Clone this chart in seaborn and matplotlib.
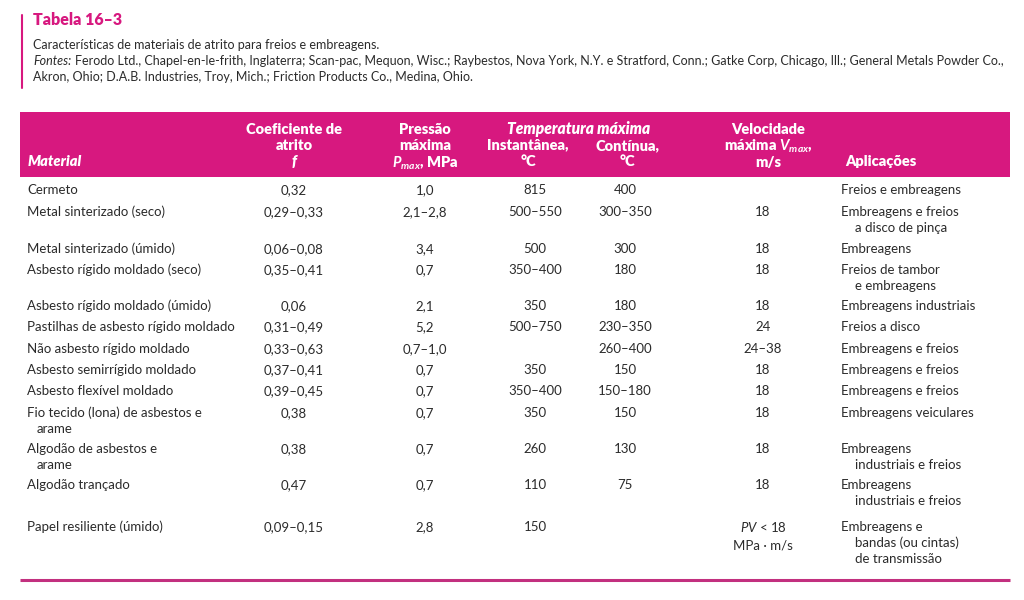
import matplotlib.pyplot as plt
import seaborn as sns
import pandas as pd

# table content
materials = ["Cermeto", "Metal sinterizado (seco)", "Metal sinterizado (úmido)",
             "Asbesto rígido moldado (seco)", "Asbesto rígido moldado (úmido)",
             "Pastilhas de asbesto rígido moldado", "Não asbesto rígido moldado",
             "Asbesto semirrígido moldado", "Asbesto flexível moldado",
             "Fio tecido (lona) de asbestos e\narame", "Algodão de asbestos e\narame",
             "Algodão trançado", "Papel resiliente (úmido)"]
coef = ["0,32", "0,29–0,33", "0,06–0,08", "0,35–0,41", "0,06", "0,31–0,49", "0,33–0,63",
        "0,37–0,41", "0,39–0,45", "0,38", "0,38", "0,47", "0,09–0,15"]
pressao = ["1,0", "2,1–2,8", "3,4", "0,7", "2,1", "5,2", "0,7–1,0",
           "0,7", "0,7", "0,7", "0,7", "0,7", "2,8"]
temp_inst = ["815", "500–550", "500", "350–400", "350", "500–750", "",
             "350", "350–400", "350", "260", "110", "150"]
temp_cont = ["400", "300–350", "300", "180", "180", "230–350", "260–400",
             "150", "150–180", "150", "130", "75", ""]
velocidade = ["", "18", "18", "18", "18", "24", "24–38", "18", "18", "18", "18", "18",
              "$PV$ < 18\nMPa · m/s"]
aplicacoes = ["Freios e embreagens", "Embreagens e freios\na disco de pinça", "Embreagens",
              "Freios de tambor\ne embreagens", "Embreagens industriais", "Freios a disco",
              "Embreagens e freios", "Embreagens e freios", "Embreagens e freios",
              "Embreagens veiculares", "Embreagens\nindustriais e freios",
              "Embreagens\nindustriais e freios",
              "Embreagens e\nbandas (ou cintas)\nde transmissão"]

title = "Tabela 16–3"
caption = ["Características de materiais de atrito para freios e embreagens.",
           "Ferodo Ltd., Chapel-en-le-frith, Inglaterra; Scan-pac, Mequon, Wisc.; Raybestos, Nova York, N.Y. e Stratford, Conn.; Gatke Corp, Chicago, Ill.; General Metals Powder Co.,",
           "Akron, Ohio; D.A.B. Industries, Troy, Mich.; Friction Products Co., Medina, Ohio."]

df = pd.DataFrame({"material": materials, "coef": coef, "pressao": pressao,
                   "inst": temp_inst, "cont": temp_cont, "vel": velocidade,
                   "apl": aplicacoes})

sns.set_style("white")
plt.rcParams['font.family'] = ['Lato', 'DejaVu Sans']
plt.rcParams['mathtext.fontset'] = 'custom'
plt.rcParams['mathtext.rm'] = 'Lato'
plt.rcParams['mathtext.it'] = 'Lato:italic'
plt.rcParams['mathtext.bf'] = 'Lato:bold'
plt.rcParams['mathtext.bfit'] = 'Lato:italic:bold'

MAGENTA = "#d7187f"
TXT = "#2b2b2b"
FS = 9.5
HFS = 10.5
LH = 16  # line height in px

fig = plt.figure(figsize=(10.24, 6), dpi=100)
ax = fig.add_axes([0, 0, 1, 1])
ax.set_xlim(0, 1024)
ax.set_ylim(600, 0)
ax.axis('off')

# title block
ax.plot([22, 22], [15, 88], color=MAGENTA, lw=1.5)
ax.text(33, 20, title, color=MAGENTA, fontsize=11.5, fontweight='heavy', va='center')
ax.text(33, 45, caption[0], color=TXT, fontsize=9.0, va='center')
ax.text(33, 61, "Fontes:", color=TXT, fontsize=9.0, va='center', style='italic')
ax.text(75, 61, caption[1], color=TXT, fontsize=9.0, va='center')
ax.text(33, 77, caption[2], color=TXT, fontsize=9.0, va='center')

# header band
ax.fill_between([20, 1010], 112, 177, color=MAGENTA, lw=0)
hd = dict(color='white', fontsize=HFS, fontweight='heavy', va='center', ha='center')
ax.text(28, 162, "Material", ha='left', va='center', color='white', fontsize=HFS,
        fontweight='heavy', style='italic')
ax.text(294, 129, "Coeficiente de", **hd)
ax.text(294, 145, "atrito", **hd)
ax.text(294, 161, "f", style='italic', **hd)
ax.text(425, 130, "Pressão", **hd)
ax.text(425, 146, "máxima", **hd)
ax.text(425, 163, r"$\mathbfit{P}_{\mathbfit{max}}$, MPa", **hd)
hd_t = dict(hd, fontsize=11.2)
ax.text(579, 129, "Temperatura máxima", style='italic', **hd_t)
ax.text(528, 145, "Instantânea,", **hd)
ax.text(528, 161, "°C", **hd)
ax.text(627, 146, "Contínua,", **hd)
ax.text(627, 162, "°C", **hd)
ax.text(768, 130, "Velocidade", **hd)
ax.text(768, 146, r"máxima $\mathbfit{V}_{\mathbfit{max}}$,", **hd)
ax.text(768, 162, "m/s", **hd)
ax.text(845, 162, "Aplicações", ha='left', va='center', color='white', fontsize=HFS,
        fontweight='heavy')

# body rows
row_y = [190, 212, 249, 270, 306, 327, 349, 370, 391, 413, 449, 485, 527]
centers = {"coef": 294, "pressao": 425, "inst": 535, "cont": 625, "vel": 763}
for y, (_, r) in zip(row_y, df.iterrows()):
    for i, line in enumerate(r["material"].split("\n")):
        ax.text(27 + (10 if i else 0), y + i * LH, line, color=TXT, fontsize=FS, va='center')
    for col, cx in centers.items():
        for i, line in enumerate(r[col].split("\n")):
            ax.text(cx, y + i * LH * 1.15, line, color=TXT, fontsize=FS, va='center', ha='center')
    for i, line in enumerate(r["apl"].split("\n")):
        ax.text(841 + (14 if i else 0), y + i * LH, line, color=TXT, fontsize=FS, va='center')

# bottom rule
ax.plot([20, 1010], [580, 580], color="#c2307f", lw=2.2, solid_capstyle='butt')

fig.savefig("out.png", dpi=100)
